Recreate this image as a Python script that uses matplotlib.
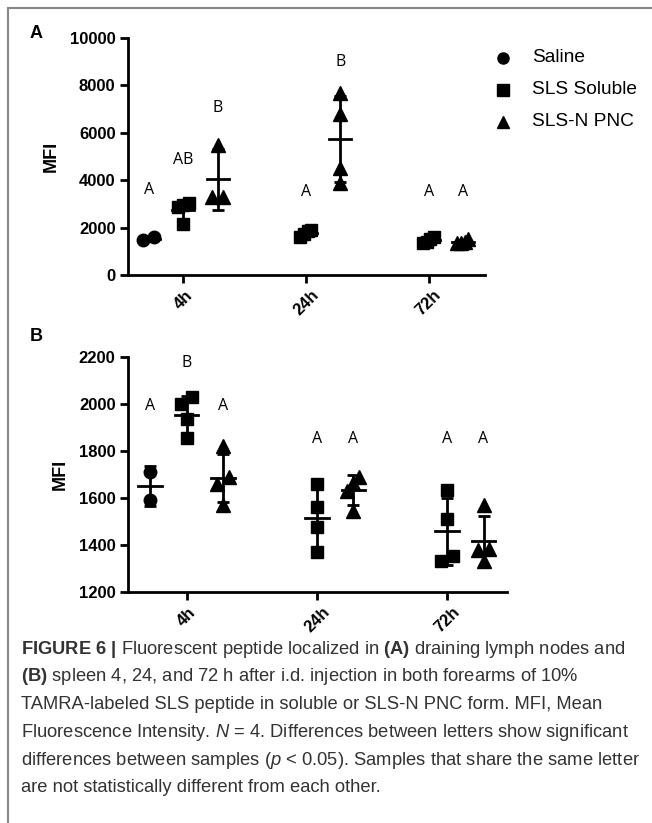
import numpy as np
import matplotlib
matplotlib.use('Agg')
import matplotlib.pyplot as plt
from matplotlib.lines import Line2D

plt.rcParams['font.family'] = ['Liberation Sans', 'DejaVu Sans']
plt.rcParams['mathtext.fontset'] = 'custom'
plt.rcParams['mathtext.rm'] = 'Liberation Sans'
plt.rcParams['mathtext.bf'] = 'Liberation Sans:bold'
plt.rcParams['mathtext.it'] = 'Liberation Sans:italic'

# ---- data ----
times = ['4h', '24h', '72h']
groups = ['Saline', 'SLS Soluble', 'SLS-N PNC']
markers = {'Saline': 'o', 'SLS Soluble': 's', 'SLS-N PNC': '^'}

# Panel A: draining lymph nodes (MFI)
a_saline = {'4h': [1460, 1600]}
a_soluble = {'4h': [3050, 2950, 2850, 2150],
             '24h': [1900, 1850, 1600, 1750],
             '72h': [1600, 1500, 1350, 1400]}
a_pnc = {'4h': [5500, 3300, 3300],
         '24h': [7700, 6800, 4500, 3900],
         '72h': [1500, 1400, 1350, 1350]}
a_letters = {('Saline', '4h'): ('A', 3600), ('SLS Soluble', '4h'): ('AB', 4850),
             ('SLS-N PNC', '4h'): ('B', 7050), ('SLS Soluble', '24h'): ('A', 3500),
             ('SLS-N PNC', '24h'): ('B', 9000), ('SLS Soluble', '72h'): ('A', 3500),
             ('SLS-N PNC', '72h'): ('A', 3500)}

# Panel B: spleen (MFI)
b_saline = {'4h': [1710, 1590]}
b_soluble = {'4h': [2030, 2000, 1935, 1855],
             '24h': [1660, 1560, 1475, 1370],
             '72h': [1635, 1510, 1355, 1330]}
b_pnc = {'4h': [1820, 1690, 1660, 1570],
         '24h': [1690, 1665, 1630, 1545],
         '72h': [1570, 1385, 1380, 1330]}
b_letters = {('Saline', '4h'): ('A', 1990), ('SLS Soluble', '4h'): ('B', 2175),
             ('SLS-N PNC', '4h'): ('A', 1990), ('SLS Soluble', '24h'): ('A', 1850),
             ('SLS-N PNC', '24h'): ('A', 1850), ('SLS Soluble', '72h'): ('A', 1850),
             ('SLS-N PNC', '72h'): ('A', 1850)}


def position(group, t):
    """x position of a group within a time point"""
    i = times.index(t)
    if t == '4h':
        return i + {'Saline': -0.28, 'SLS Soluble': 0.0, 'SLS-N PNC': 0.28}[group]
    return i + {'SLS Soluble': 0.0, 'SLS-N PNC': 0.28}[group]


def spread(vals, thresh, step):
    """GraphPad-like scatter: spread out points that would overlap"""
    order = np.argsort(vals)
    offs = np.zeros(len(vals))
    clusters = [[order[0]]]
    for k in order[1:]:
        if vals[k] - vals[clusters[-1][-1]] < thresh:
            clusters[-1].append(k)
        else:
            clusters.append([k])
    for c in clusters:
        if len(c) > 1:
            offs[c] = np.linspace(-step, step, len(c))
    return offs


def draw_panel(ax, datasets, letters, ylim, yticks, thresh, step):
    for group, data in datasets:
        for t, vals in data.items():
            x = position(group, t)
            vals = np.array(vals, dtype=float)
            xs = x + spread(vals, thresh, step)
            m = vals.mean()
            sd = vals.std(ddof=1)
            ax.errorbar(x, m, yerr=sd, color='black', capsize=4, elinewidth=2,
                        capthick=2, zorder=2)
            ax.plot([x - 0.09, x + 0.09], [m, m], color='black', lw=2, zorder=2)
            ax.plot(xs, vals, linestyle='none', marker=markers[group], color='black',
                    markersize=9 if markers[group] != '^' else 10, zorder=3, clip_on=False)
    for (group, t), (txt, y) in letters.items():
        ax.text(position(group, t), y, txt, ha='center', va='center',
                fontsize=11.5, family='Open Sans')
    ax.set_xlim(-0.45, 2.46)
    ax.set_ylim(*ylim)
    ax.set_yticks(yticks)
    ax.set_xticks(range(len(times)))
    ax.set_xticklabels(times, rotation=45, fontweight='bold', fontsize=12)
    for lab in ax.get_yticklabels():
        lab.set_fontweight('bold')
        lab.set_fontsize(12)
    ax.set_ylabel('MFI', fontweight='bold', fontsize=13, labelpad=7)
    ax.spines['top'].set_visible(False)
    ax.spines['right'].set_visible(False)
    ax.spines['left'].set_linewidth(2)
    ax.spines['bottom'].set_linewidth(2)
    ax.tick_params(width=2, length=6, pad=3)


W, H = 652, 823
fig = plt.figure(figsize=(W / 100, H / 100), dpi=100)

axA = fig.add_axes([128 / W, 1 - 275 / H, (485 - 128) / W, (275 - 38) / H])
draw_panel(axA, [('Saline', a_saline), ('SLS Soluble', a_soluble), ('SLS-N PNC', a_pnc)],
           a_letters, (0, 10000), range(0, 10001, 2000), 450, 0.045)

axB = fig.add_axes([128 / W, 1 - 592 / H, (507 - 128) / W, (592 - 357) / H])
draw_panel(axB, [('Saline', b_saline), ('SLS Soluble', b_soluble), ('SLS-N PNC', b_pnc)],
           b_letters, (1200, 2200), range(1200, 2201, 200), 40, 0.045)

# legend (drawn by hand to match placement)
for i, g in enumerate(groups):
    y = 1 - (58 + 32 * i) / H
    fig.add_artist(Line2D([503 / W], [y], linestyle='none', marker=markers[g],
                          color='black', markersize=8))
    fig.text(532 / W, y, g, fontsize=13.8, va='center')

# panel letters
fig.text(30 / W, 1 - 34 / H, 'A', fontsize=13, fontweight='bold', va='center')
fig.text(30 / W, 1 - 336 / H, 'B', fontsize=13, fontweight='bold', va='center')

# caption
caption = [
    r"$\mathbf{FIGURE\ 6\ |}$ Fluorescent peptide localized in $\mathbf{(A)}$ draining lymph nodes and",
    r"$\mathbf{(B)}$ spleen 4, 24, and 72 h after i.d. injection in both forearms of 10%",
    "TAMRA-labeled SLS peptide in soluble or SLS-N PNC form. MFI, Mean",
    r"Fluorescence Intensity. $\mathit{N}$ = 4. Differences between letters show significant",
    r"differences between samples ($\mathit{p}$ < 0.05). Samples that share the same letter",
    "are not statistically different from each other.",
]
for i, line in enumerate(caption):
    fig.text(21 / W, 1 - (649 + 27.8 * i) / H, line, fontsize=13.2, va='center',
             color='#333333')

# frame lines
fig.add_artist(Line2D([8 / W, 8 / W], [0, 1 - 8 / H], color='#888888', lw=1.5))
fig.add_artist(Line2D([8 / W, 1], [1 - 8 / H, 1 - 8 / H], color='#888888', lw=1.5))

fig.savefig('out.png', dpi=100)
